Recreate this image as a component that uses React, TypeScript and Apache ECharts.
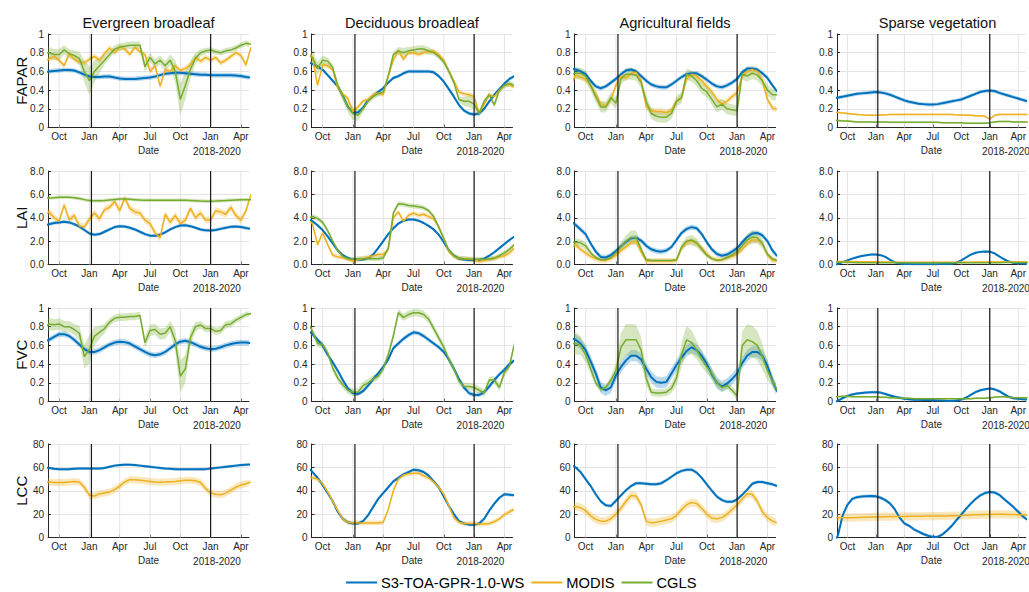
import React, { useEffect, useRef } from "react";
import * as echarts from "echarts";

// time axis in months, 0 = 1 October of the first year
const T = [-1.5,-1,-0.5,0,0.5,1, 1.5,2,2.5,3,3.5,4, 4.5,5,5.5,6,6.5,7, 7.5,8,8.5,9,9.5,10, 10.5,11,11.5,12,12.5,13, 13.5,14,14.5,15,15.5,16, 16.5,17,17.5,18,18.5,19];
const X_TICKS = [0, 3, 6, 9, 12, 15, 18];
const X_TICK_LABELS = ["Oct", "Jan", "Apr", "Jul", "Oct", "Jan", "Apr"];
const JAN_LINES = [3.2, 15.0];
const COLUMNS = ["Evergreen broadleaf", "Deciduous broadleaf", "Agricultural fields", "Sparse vegetation"];
const ROWS = ["FAPAR", "LAI", "FVC", "LCC"];
const Y_MAX = [1, 8, 1, 80];
const Y_STEP = [0.2, 2, 0.2, 20];
const PRODUCTS = ["S3-TOA-GPR-1.0-WS", "MODIS", "CGLS"];
const PERIOD_LABEL = "2018-2020";

// ---- FAPAR ----
const FAPAR_EVG_S3 = [0.59,0.60,0.605,0.61,0.615,0.615, 0.61,0.59,0.565,0.545,0.54,0.54, 0.545,0.545,0.535,0.525,0.52,0.52, 0.52,0.525,0.53,0.535,0.545,0.56, 0.575,0.58,0.585,0.585,0.58,0.575, 0.57,0.565,0.565,0.56,0.56,0.56, 0.56,0.56,0.555,0.55,0.54,0.535];
const FAPAR_EVG_MODIS = [0.72,0.73,0.76,0.72,0.66,0.79, 0.73,0.70,0.69,0.73,0.76,0.72, 0.79,0.85,0.80,0.86,0.84,0.78, 0.86,0.81,0.78,0.60,0.66,0.44, 0.62,0.60,0.66,0.61,0.63,0.67, 0.75,0.71,0.75,0.72,0.75,0.69, 0.72,0.76,0.80,0.77,0.67,0.86];
const FAPAR_EVG_CGLS = [0.80,0.80,0.78,0.78,0.83,0.79, 0.77,0.74,0.60,0.50,0.60,0.66, 0.72,0.78,0.84,0.86,0.87,0.88, 0.88,0.88,0.65,0.75,0.68,0.72, 0.66,0.72,0.60,0.30,0.45,0.62, 0.74,0.80,0.82,0.83,0.81,0.80, 0.82,0.83,0.85,0.88,0.90,0.89];
const FAPAR_EVG_CGLS_UNC = [0.06,0.06,0.06,0.06,0.05,0.05, 0.05,0.07,0.12,0.15,0.12,0.08, 0.05,0.04,0.04,0.04,0.04,0.04, 0.04,0.04,0.06,0.05,0.05,0.05, 0.05,0.06,0.12,0.17,0.15,0.10, 0.06,0.04,0.03,0.03,0.03,0.03, 0.03,0.03,0.03,0.03,0.03,0.03];

const FAPAR_DEC_S3 = [0.70,0.68,0.65,0.62,0.56,0.50, 0.44,0.34,0.22,0.16,0.16,0.21, 0.29,0.34,0.38,0.42,0.48,0.53, 0.55,0.58,0.60,0.60,0.60,0.60, 0.60,0.59,0.55,0.49,0.41,0.33, 0.24,0.18,0.15,0.14,0.15,0.20, 0.28,0.35,0.41,0.47,0.52,0.55];
const FAPAR_DEC_MODIS = [0.80,0.75,0.45,0.67,0.66,0.62, 0.42,0.36,0.31,0.17,0.22,0.28, 0.30,0.35,0.37,0.35,0.55,0.72, 0.82,0.73,0.80,0.80,0.78,0.80, 0.81,0.82,0.78,0.72,0.60,0.50, 0.38,0.36,0.35,0.33,0.15,0.25, 0.35,0.33,0.40,0.45,0.46,0.43];
const FAPAR_DEC_CGLS = [0.77,0.75,0.63,0.72,0.71,0.64, 0.45,0.33,0.22,0.15,0.13,0.20, 0.28,0.33,0.36,0.38,0.55,0.78, 0.82,0.80,0.82,0.83,0.84,0.84, 0.82,0.80,0.76,0.70,0.60,0.48, 0.30,0.28,0.28,0.25,0.15,0.28, 0.35,0.24,0.40,0.45,0.47,0.45];
const FAPAR_DEC_CGLS_UNC = [0.08,0.08,0.07,0.05,0.04,0.04, 0.04,0.05,0.06,0.07,0.06,0.04, 0.03,0.03,0.03,0.03,0.03,0.03, 0.04,0.05,0.04,0.04,0.04,0.04, 0.04,0.03,0.03,0.03,0.03,0.03, 0.03,0.05,0.06,0.06,0.04,0.03, 0.03,0.03,0.03,0.03,0.03,0.03];

const FAPAR_AGR_S3 = [0.63,0.62,0.60,0.57,0.50,0.44, 0.42,0.44,0.48,0.52,0.57,0.61, 0.62,0.60,0.55,0.50,0.46,0.44, 0.43,0.43,0.46,0.50,0.54,0.57, 0.58,0.58,0.55,0.51,0.47,0.44, 0.43,0.45,0.48,0.52,0.59,0.63, 0.63,0.62,0.58,0.53,0.45,0.38];
const FAPAR_AGR_MODIS = [0.45,0.56,0.54,0.52,0.45,0.36, 0.25,0.23,0.30,0.45,0.55,0.53, 0.58,0.59,0.50,0.22,0.18,0.17, 0.17,0.16,0.18,0.28,0.32,0.52, 0.57,0.55,0.50,0.44,0.38,0.30, 0.25,0.28,0.33,0.37,0.55,0.60, 0.62,0.60,0.50,0.30,0.21,0.19];
const FAPAR_AGR_CGLS = [0.57,0.58,0.58,0.55,0.45,0.33, 0.22,0.22,0.32,0.26,0.52,0.57, 0.57,0.56,0.48,0.28,0.15,0.12, 0.11,0.11,0.15,0.28,0.32,0.57, 0.55,0.50,0.42,0.38,0.30,0.22, 0.25,0.20,0.19,0.18,0.57,0.55, 0.58,0.56,0.50,0.40,0.35,0.35];

const FAPAR_SPA_S3 = [0.31,0.32,0.33,0.34,0.35,0.36, 0.365,0.37,0.375,0.38,0.375,0.365, 0.35,0.33,0.31,0.29,0.275,0.265, 0.255,0.25,0.245,0.245,0.25,0.26, 0.27,0.28,0.29,0.30,0.32,0.34, 0.36,0.38,0.39,0.395,0.39,0.37, 0.355,0.34,0.325,0.31,0.295,0.28];
const FAPAR_SPA_MODIS = [0.16,0.16,0.155,0.15,0.145,0.14, 0.135,0.13,0.13,0.13,0.135,0.135, 0.14,0.14,0.14,0.14,0.14,0.14, 0.14,0.14,0.14,0.14,0.14,0.14, 0.14,0.14,0.135,0.135,0.13,0.13, 0.125,0.125,0.12,0.09,0.13,0.14, 0.14,0.14,0.14,0.14,0.14,0.14];
const FAPAR_SPA_CGLS = [0.08,0.075,0.07,0.07,0.065,0.06, 0.06,0.06,0.06,0.055,0.06,0.06, 0.055,0.055,0.055,0.055,0.055,0.055, 0.055,0.055,0.055,0.055,0.055,0.05, 0.05,0.05,0.05,0.05,0.045,0.045, 0.045,0.045,0.045,0.05,0.06,0.065, 0.065,0.065,0.06,0.06,0.06,0.06];

// ---- LAI ----
const LAI_EVG_S3 = [3.3,3.45,3.55,3.6,3.65,3.6, 3.45,3.25,2.95,2.65,2.55,2.6, 2.8,3.0,3.2,3.28,3.25,3.15, 3.0,2.8,2.6,2.47,2.45,2.55, 2.75,3.0,3.2,3.33,3.35,3.28, 3.15,3.0,2.92,2.9,2.95,3.05, 3.15,3.22,3.25,3.2,3.12,3.05];
const LAI_EVG_MODIS = [4.2,4.5,4.0,3.7,5.1,3.8, 4.2,3.3,3.2,3.9,4.4,3.9, 4.7,4.9,5.4,4.6,5.7,4.8, 4.5,4.4,3.8,3.5,2.7,2.3, 4.3,3.6,4.2,3.5,3.8,4.8, 4.0,4.4,3.8,3.8,4.6,4.5, 4.3,4.9,4.2,3.8,4.6,6.0];
const LAI_EVG_CGLS = [5.65,5.7,5.72,5.75,5.75,5.75, 5.72,5.65,5.55,5.47,5.45,5.45, 5.48,5.52,5.56,5.6,5.6,5.58, 5.55,5.52,5.5,5.5,5.5,5.5, 5.5,5.5,5.5,5.5,5.49,5.47, 5.45,5.43,5.42,5.42,5.43,5.45, 5.47,5.5,5.52,5.53,5.53,5.53];

const LAI_DEC_S3 = [3.9,3.7,3.35,2.95,2.4,1.8, 1.2,0.8,0.55,0.42,0.4,0.42, 0.55,0.85,1.4,2.0,2.6,3.1, 3.5,3.75,3.85,3.85,3.75,3.55, 3.3,3.0,2.55,1.9,1.2,0.75, 0.5,0.42,0.38,0.36,0.4,0.5, 0.75,1.05,1.4,1.75,2.1,2.4];
const LAI_DEC_MODIS = [3.9,3.5,1.7,2.7,1.7,0.8, 0.65,0.6,0.45,0.3,0.4,0.5, 0.65,0.75,0.85,0.85,1.3,4.0, 4.5,3.7,4.2,4.4,4.2,4.3, 4.1,3.9,3.2,2.2,1.1,0.7, 0.5,0.5,0.45,0.4,0.25,0.35, 0.45,0.5,0.65,0.75,1.0,1.4];
const LAI_DEC_CGLS = [4.0,4.1,3.95,3.6,2.9,2.0, 1.2,0.7,0.5,0.45,0.5,0.5, 0.5,0.5,0.5,0.55,1.4,4.4, 5.2,5.15,5.05,5.0,4.95,4.85, 4.6,4.1,3.2,2.2,1.2,0.75, 0.55,0.5,0.48,0.45,0.45,0.45, 0.48,0.55,0.75,1.0,1.3,1.7];

const LAI_AGR_S3 = [3.7,3.4,3.0,2.6,1.8,1.1, 0.65,0.6,0.8,1.15,1.55,1.95, 2.25,2.3,2.05,1.6,1.3,1.15, 1.1,1.2,1.5,2.1,2.7,3.05, 3.2,3.1,2.6,1.9,1.3,0.9, 0.75,0.85,1.1,1.4,1.9,2.35, 2.65,2.7,2.5,2.0,1.2,0.7];
const LAI_AGR_MODIS = [1.4,1.7,1.3,1.0,0.7,0.5, 0.35,0.35,0.5,0.8,1.2,1.5, 1.9,2.0,1.1,0.3,0.3,0.3, 0.3,0.3,0.3,0.35,1.4,1.9, 2.0,1.8,1.4,0.9,0.5,0.4, 0.4,0.55,0.7,0.9,1.3,1.8, 2.1,2.1,1.8,0.8,0.35,0.3];
const LAI_AGR_CGLS = [1.9,1.9,1.85,1.6,1.0,0.6, 0.4,0.4,0.6,1.0,1.5,2.0, 2.3,2.3,1.3,0.4,0.35,0.35, 0.35,0.35,0.35,0.4,1.5,2.0, 2.1,1.85,1.3,0.8,0.5,0.35, 0.4,0.6,0.8,1.1,1.6,2.1, 2.35,2.3,1.8,0.9,0.5,0.35];
const LAI_AGR_CGLS_UNC = [0.35,0.35,0.3,0.3,0.2,0.15, 0.1,0.1,0.15,0.25,0.4,0.5, 0.6,0.6,0.4,0.15,0.1,0.1, 0.1,0.1,0.1,0.1,0.3,0.4, 0.45,0.4,0.3,0.2,0.12,0.1, 0.1,0.15,0.2,0.3,0.4,0.5, 0.55,0.5,0.4,0.2,0.12,0.1];

const LAI_SPA_S3 = [-0.1,0.05,0.2,0.35,0.5,0.62, 0.72,0.8,0.85,0.85,0.8,0.65, 0.4,0.18,0.08,0.05,0.04,0.03, 0.03,0.03,0.03,0.03,0.03,0.04, 0.04,0.07,0.15,0.35,0.6,0.85, 1.0,1.08,1.12,1.1,0.95,0.7, 0.45,0.25,0.15,0.1,0.08,0.06];
const LAI_SPA_MODIS = [0.25,0.25,0.25,0.25,0.25,0.24, 0.24,0.24,0.23,0.23,0.22,0.22, 0.21,0.2,0.2,0.2,0.19,0.19, 0.19,0.19,0.19,0.19,0.19,0.19, 0.19,0.19,0.2,0.2,0.2,0.2, 0.21,0.21,0.21,0.21,0.22,0.22, 0.22,0.22,0.22,0.22,0.22,0.22];
const LAI_SPA_CGLS = [0.2,0.2,0.19,0.18,0.17,0.16, 0.15,0.15,0.15,0.15,0.15,0.15, 0.14,0.14,0.14,0.14,0.14,0.14, 0.14,0.14,0.14,0.14,0.14,0.14, 0.14,0.14,0.14,0.14,0.14,0.14, 0.14,0.15,0.15,0.15,0.16,0.16, 0.17,0.17,0.17,0.17,0.17,0.17];

// ---- FVC ----
const FVC_EVG_S3 = [0.64,0.66,0.69,0.72,0.72,0.70, 0.66,0.61,0.56,0.53,0.53,0.55, 0.58,0.61,0.63,0.64,0.635,0.62, 0.59,0.56,0.53,0.505,0.495,0.505, 0.53,0.57,0.61,0.64,0.65,0.635, 0.61,0.585,0.57,0.56,0.565,0.58, 0.60,0.615,0.625,0.63,0.63,0.625];
const FVC_EVG_CGLS = [0.78,0.83,0.82,0.83,0.80,0.80, 0.77,0.73,0.48,0.56,0.70,0.74, 0.78,0.85,0.89,0.90,0.90,0.91, 0.91,0.92,0.63,0.76,0.77,0.72, 0.73,0.80,0.65,0.27,0.35,0.68, 0.80,0.82,0.78,0.78,0.75,0.76, 0.82,0.83,0.87,0.90,0.93,0.94];
const FVC_EVG_CGLS_UNC = [0.08,0.07,0.06,0.06,0.06,0.06, 0.06,0.08,0.13,0.15,0.10,0.07, 0.05,0.04,0.04,0.04,0.04,0.04, 0.04,0.04,0.06,0.06,0.06,0.06, 0.06,0.06,0.12,0.17,0.15,0.08, 0.05,0.04,0.04,0.04,0.04,0.04, 0.04,0.04,0.03,0.03,0.03,0.03];

const FVC_DEC_S3 = [0.76,0.72,0.66,0.60,0.50,0.42, 0.33,0.23,0.14,0.09,0.08,0.11, 0.17,0.24,0.30,0.37,0.45,0.57, 0.62,0.67,0.71,0.74,0.73,0.70, 0.66,0.62,0.58,0.53,0.45,0.35, 0.24,0.15,0.09,0.07,0.07,0.10, 0.16,0.23,0.29,0.34,0.40,0.44];
const FVC_DEC_CGLS = [0.86,0.75,0.62,0.61,0.52,0.36, 0.25,0.18,0.12,0.10,0.10,0.17, 0.20,0.24,0.27,0.35,0.50,0.70, 0.95,0.90,0.93,0.95,0.95,0.93, 0.88,0.78,0.68,0.58,0.45,0.35, 0.22,0.16,0.16,0.15,0.12,0.09, 0.23,0.23,0.15,0.31,0.38,0.62];

const FVC_AGR_S3 = [0.68,0.66,0.62,0.55,0.43,0.30, 0.15,0.12,0.15,0.28,0.37,0.44, 0.49,0.49,0.45,0.35,0.26,0.21, 0.20,0.21,0.30,0.39,0.47,0.54, 0.58,0.55,0.49,0.40,0.29,0.20, 0.16,0.19,0.24,0.30,0.41,0.49, 0.53,0.53,0.49,0.38,0.22,0.10];
const FVC_AGR_CGLS = [0.62,0.62,0.60,0.50,0.35,0.20, 0.13,0.15,0.23,0.33,0.58,0.66, 0.66,0.66,0.55,0.25,0.10,0.09, 0.09,0.10,0.14,0.25,0.50,0.66, 0.63,0.55,0.45,0.37,0.30,0.20, 0.15,0.17,0.12,0.06,0.60,0.66, 0.64,0.60,0.48,0.33,0.22,0.12];
const FVC_AGR_CGLS_UNC = [0.12,0.12,0.10,0.08,0.06,0.04, 0.03,0.03,0.04,0.08,0.15,0.17, 0.17,0.16,0.14,0.08,0.04,0.04, 0.04,0.04,0.05,0.08,0.13,0.15, 0.13,0.10,0.08,0.07,0.06,0.05, 0.04,0.04,0.04,0.05,0.15,0.17, 0.17,0.16,0.14,0.10,0.06,0.04];

const FVC_SPA_S3 = [-0.02,0.01,0.035,0.06,0.075,0.085, 0.09,0.095,0.10,0.10,0.095,0.08, 0.065,0.05,0.04,0.03,0.025,0.02, 0.02,0.015,0.015,0.015,0.012,0.01, 0.005,0.005,0.01,0.02,0.04,0.07, 0.10,0.12,0.13,0.14,0.13,0.11, 0.08,0.05,0.035,0.03,0.025,0.02];
const FVC_SPA_CGLS = [0.05,0.05,0.055,0.055,0.05,0.05, 0.05,0.05,0.05,0.05,0.045,0.045, 0.04,0.04,0.035,0.035,0.035,0.03, 0.03,0.03,0.03,0.03,0.03,0.03, 0.03,0.03,0.03,0.03,0.03,0.03, 0.035,0.035,0.035,0.04,0.045,0.05, 0.05,0.045,0.04,0.04,0.04,0.04];

// ---- LCC ----
const LCC_EVG_S3 = [60,59.5,58.8,58.5,58.3,58.5, 58.8,59,59,59,59,59, 59.5,60.5,61.5,62,62.3,62.3, 62,61.5,61,60.5,60,59.5, 59,58.8,58.5,58.3,58.3,58.3, 58.3,58.4,58.5,59,59.5,60, 60.5,61,61.5,62,62.3,62.5];
const LCC_EVG_MODIS = [47.5,47.5,47,47,47,47.5, 48,47.5,43,36,35.5,37.5, 38,39,41,44,47.5,49.5, 49.5,49,48.5,48,47.5,47.3, 47.5,47.8,48,48.5,49,49, 48.5,47,42,38,37,36.5, 38,40.5,43,45,46,47.5];

const LCC_DEC_S3 = [60,56,51,45,38,31, 22,16,13,12,12,14, 19,26,33,38,43,48, 51,54,56,58,57.5,56, 53,48,43,35,27,20, 14,12,11,11,12,16, 23,29,34,37,36.5,36];
const LCC_DEC_MODIS = [52,51,50,46,39,31, 23,16,13,12.5,12.5,12.5, 12.5,12.5,12.5,13,24,40, 50,53.5,54.5,55,55,53, 51,47.5,43,37,27,17, 13,12,12,12,11.5,11.5, 12,13.5,16,19.5,22,24];

const LCC_AGR_S3 = [62,60,56,50,44,37, 31,27.5,27,31.5,36,40.5, 44,46.5,46.5,46,45.5,45.5, 46.5,49,52,55,57,58, 58,55.5,51,45.5,40,35, 32,30.5,30.5,32.5,36.5,41, 46,47.5,47.5,46.5,45.5,44];
const LCC_AGR_MODIS = [26,26.5,25.5,23,18.5,15.5, 14,14,16,20,25,31, 36,35.5,28,14,12.5,13, 14,15,16,19,24,28, 30,29,25,20,16.5,16, 17,20,24,28,33,37.5, 37,31,22,17,14,12.5];

const LCC_SPA_S3 = [-8,2,19,28,33,34.5, 35,35.3,35.5,35.2,34,32, 29,24,17,12,10,7, 5,3,1.5,0.5,0.5,2.5, 6,10,15,19.5,24.5,29, 33,36,38,39,38.5,36.5, 33,29.5,26,22,18,15];
const LCC_SPA_MODIS = [17,17,17,17,17,17.2, 17.3,17.4,17.5,17.6,17.7,17.8, 17.9,18,18,18,18.1,18.1, 18.2,18.2,18.3,18.3,18.3,18.4, 18.5,18.6,18.7,18.8,19,19.2, 19.4,19.5,19.6,19.7,19.8,19.8, 19.8,19.7,19.6,19.5,19.4,19.3];

type Line = { p: number; v: number[]; u: number | number[] };
type Panel = { row: number; col: number; lines: Line[] };

const PANELS: Panel[] = [
  { row: 0, col: 0, lines: [{ p: 0, v: FAPAR_EVG_S3, u: 0.025 }, { p: 1, v: FAPAR_EVG_MODIS, u: 0.03 }, { p: 2, v: FAPAR_EVG_CGLS, u: FAPAR_EVG_CGLS_UNC }] },
  { row: 0, col: 1, lines: [{ p: 0, v: FAPAR_DEC_S3, u: 0.02 }, { p: 1, v: FAPAR_DEC_MODIS, u: 0.025 }, { p: 2, v: FAPAR_DEC_CGLS, u: FAPAR_DEC_CGLS_UNC }] },
  { row: 0, col: 2, lines: [{ p: 0, v: FAPAR_AGR_S3, u: 0.025 }, { p: 1, v: FAPAR_AGR_MODIS, u: 0.035 }, { p: 2, v: FAPAR_AGR_CGLS, u: 0.06 }] },
  { row: 0, col: 3, lines: [{ p: 0, v: FAPAR_SPA_S3, u: 0.02 }, { p: 1, v: FAPAR_SPA_MODIS, u: 0.01 }, { p: 2, v: FAPAR_SPA_CGLS, u: 0.01 }] },
  { row: 1, col: 0, lines: [{ p: 0, v: LAI_EVG_S3, u: 0.15 }, { p: 1, v: LAI_EVG_MODIS, u: 0.3 }, { p: 2, v: LAI_EVG_CGLS, u: 0.15 }] },
  { row: 1, col: 1, lines: [{ p: 0, v: LAI_DEC_S3, u: 0.12 }, { p: 1, v: LAI_DEC_MODIS, u: 0.2 }, { p: 2, v: LAI_DEC_CGLS, u: 0.2 }] },
  { row: 1, col: 2, lines: [{ p: 0, v: LAI_AGR_S3, u: 0.22 }, { p: 1, v: LAI_AGR_MODIS, u: 0.25 }, { p: 2, v: LAI_AGR_CGLS, u: LAI_AGR_CGLS_UNC }] },
  { row: 1, col: 3, lines: [{ p: 0, v: LAI_SPA_S3, u: 0.1 }, { p: 1, v: LAI_SPA_MODIS, u: 0.05 }, { p: 2, v: LAI_SPA_CGLS, u: 0.05 }] },
  { row: 2, col: 0, lines: [{ p: 0, v: FVC_EVG_S3, u: 0.03 }, { p: 2, v: FVC_EVG_CGLS, u: FVC_EVG_CGLS_UNC }] },
  { row: 2, col: 1, lines: [{ p: 0, v: FVC_DEC_S3, u: 0.025 }, { p: 2, v: FVC_DEC_CGLS, u: 0.04 }] },
  { row: 2, col: 2, lines: [{ p: 0, v: FVC_AGR_S3, u: 0.06 }, { p: 2, v: FVC_AGR_CGLS, u: FVC_AGR_CGLS_UNC }] },
  { row: 2, col: 3, lines: [{ p: 0, v: FVC_SPA_S3, u: 0.015 }, { p: 2, v: FVC_SPA_CGLS, u: 0.01 }] },
  { row: 3, col: 0, lines: [{ p: 0, v: LCC_EVG_S3, u: 1.2 }, { p: 1, v: LCC_EVG_MODIS, u: 3 }] },
  { row: 3, col: 1, lines: [{ p: 0, v: LCC_DEC_S3, u: 1.5 }, { p: 1, v: LCC_DEC_MODIS, u: 2 }] },
  { row: 3, col: 2, lines: [{ p: 0, v: LCC_AGR_S3, u: 1.5 }, { p: 1, v: LCC_AGR_MODIS, u: 3.5 }] },
  { row: 3, col: 3, lines: [{ p: 0, v: LCC_SPA_S3, u: 1.5 }, { p: 1, v: LCC_SPA_MODIS, u: 3.5 }] },
];

// ---- style / layout ----
const FONT = "'Liberation Sans', Arial, Helvetica, sans-serif";
const INK = "#262626";
const GRID_COLOR = "#e4e4e4";
const COLORS = ["#0072BD", "#EDB120", "#77AC30"];
const BAND_COLORS = ["rgba(0,114,189,0.27)", "rgba(237,177,32,0.3)", "rgba(119,172,48,0.3)"];
const LINE_WIDTHS = [2, 1.5, 1.5];
const COL_LEFT = [48, 311.5, 574.5, 837];
const ROW_TOP = [34, 171, 308, 444];
const PLOT_W = 201;
const PLOT_H = 93.5;
const X_MIN = -1.1;
const X_MAX = 18.8;

function uncAt(u: number | number[], i: number) {
  return typeof u === "number" ? u : u[i];
}

function yLabel(row: number, v: number) {
  if (row === 1) return v.toFixed(1);
  if (row === 3) return String(Math.round(v));
  if (Math.abs(v) < 1e-9) return "0";
  if (Math.abs(v - 1) < 1e-9) return "1";
  return v.toFixed(1);
}

export default function App() {
  const ref = useRef<HTMLDivElement>(null);
  useEffect(() => {
    if (!ref.current) return;
    const chart = echarts.init(ref.current, undefined, { renderer: "svg" });
    const grid: any[] = [];
    const xAxis: any[] = [];
    const yAxis: any[] = [];
    const series: any[] = [];
    const graphic: any[] = [];

    PANELS.forEach((pn, k) => {
      const left = COL_LEFT[pn.col];
      const top = ROW_TOP[pn.row];
      const yMax = Y_MAX[pn.row];
      grid.push({ left, top, width: PLOT_W, height: PLOT_H, containLabel: false });
      xAxis.push({
        type: "value",
        gridIndex: k,
        min: X_MIN,
        max: X_MAX,
        splitLine: { show: false },
        axisLine: { show: true, onZero: false, lineStyle: { color: INK, width: 1 } },
        axisTick: { show: true, inside: true, length: 3, customValues: X_TICKS, lineStyle: { color: INK } },
        axisLabel: {
          customValues: X_TICKS,
          formatter: (v: number) => X_TICK_LABELS[X_TICKS.indexOf(v)] ?? "",
          fontSize: 10,
          color: INK,
          margin: 4,
          fontFamily: FONT,
        },
        name: "Date",
        nameLocation: "middle",
        nameGap: 18,
        nameTextStyle: { fontSize: 10, color: INK, fontFamily: FONT },
      });
      yAxis.push({
        type: "value",
        gridIndex: k,
        min: 0,
        max: yMax,
        interval: Y_STEP[pn.row],
        splitLine: { show: true, lineStyle: { color: GRID_COLOR, width: 1 } },
        axisLine: { show: true, onZero: false, lineStyle: { color: INK, width: 1 } },
        axisTick: { show: true, inside: true, length: 3, lineStyle: { color: INK } },
        axisLabel: {
          formatter: (v: number) => yLabel(pn.row, v),
          fontSize: 10,
          color: INK,
          margin: 4,
          fontFamily: FONT,
        },
      });

      // vertical grid lines at the date ticks
      series.push({
        type: "custom",
        xAxisIndex: k,
        yAxisIndex: k,
        silent: true,
        z: 1,
        data: X_TICKS.map((v) => [v, 0]),
        encode: { x: 0, y: 1 },
        renderItem: (_p: any, api: any) => {
          const x = api.value(0);
          const a = api.coord([x, 0]);
          const b = api.coord([x, yMax]);
          return { type: "line", shape: { x1: a[0], y1: a[1], x2: b[0], y2: b[1] }, style: { stroke: GRID_COLOR, lineWidth: 1 } };
        },
      });

      // uncertainty bands
      pn.lines.forEach((ln) => {
        const lo = ln.v.map((v, i) => v - uncAt(ln.u, i));
        const hi = ln.v.map((v, i) => v + uncAt(ln.u, i));
        const fill = BAND_COLORS[ln.p];
        series.push({
          type: "custom",
          name: PRODUCTS[ln.p] + " band",
          xAxisIndex: k,
          yAxisIndex: k,
          silent: true,
          clip: true,
          z: 2,
          data: T.map((t, i) => [t, lo[i], hi[i]]),
          encode: { x: 0, y: [1, 2] },
          renderItem: (params: any, api: any) => {
            if (params.dataIndex !== 0) return null;
            const pts: number[][] = [];
            for (let i = 0; i < T.length; i++) pts.push(api.coord([T[i], hi[i]]));
            for (let i = T.length - 1; i >= 0; i--) pts.push(api.coord([T[i], lo[i]]));
            return { type: "polygon", shape: { points: pts }, style: { fill } };
          },
        });
      });

      // product lines
      pn.lines.forEach((ln) => {
        series.push({
          type: "line",
          name: PRODUCTS[ln.p],
          xAxisIndex: k,
          yAxisIndex: k,
          data: T.map((t, i) => [t, ln.v[i]]),
          symbol: "none",
          showSymbol: false,
          clip: true,
          silent: true,
          z: 3,
          lineStyle: { color: COLORS[ln.p], width: LINE_WIDTHS[ln.p] },
          itemStyle: { color: COLORS[ln.p] },
        });
      });

      // January separators
      series.push({
        type: "custom",
        xAxisIndex: k,
        yAxisIndex: k,
        silent: true,
        z: 4,
        data: JAN_LINES.map((v) => [v, 0]),
        encode: { x: 0, y: 1 },
        renderItem: (_p: any, api: any) => {
          const x = api.value(0);
          const a = api.coord([x, 0]);
          const b = api.coord([x, yMax]);
          return { type: "line", shape: { x1: a[0], y1: a[1], x2: b[0], y2: b[1] }, style: { stroke: "#1a1a1a", lineWidth: 1.2 } };
        },
      });

      graphic.push({
        type: "text",
        silent: true,
        x: left + 169,
        y: top + PLOT_H + 24,
        style: {
          text: PERIOD_LABEL,
          fill: INK,
          fontSize: 10,
          fontFamily: FONT,
          textAlign: "center",
          textVerticalAlign: "middle",
          align: "center",
          verticalAlign: "middle",
        },
      });
    });

    COLUMNS.forEach((t, c) => {
      graphic.push({
        type: "text",
        silent: true,
        x: COL_LEFT[c] + PLOT_W / 2,
        y: 23,
        style: {
          text: t,
          fill: "#111",
          fontSize: 14.6,
          fontFamily: FONT,
          textAlign: "center",
          textVerticalAlign: "middle",
          align: "center",
          verticalAlign: "middle",
        },
      });
    });
    ROWS.forEach((t, r) => {
      graphic.push({
        type: "text",
        silent: true,
        x: 21,
        y: ROW_TOP[r] + PLOT_H / 2,
        rotation: Math.PI / 2,
        style: {
          text: t,
          fill: "#111",
          fontSize: 15,
          fontFamily: FONT,
          textAlign: "center",
          textVerticalAlign: "middle",
          align: "center",
          verticalAlign: "middle",
        },
      });
    });

    chart.setOption({
      animation: false,
      backgroundColor: "#ffffff",
      textStyle: { fontFamily: FONT },
      grid,
      xAxis,
      yAxis,
      series,
      graphic,
      legend: {
        data: PRODUCTS,
        left: 346,
        top: 575,
        padding: 0,
        icon: "rect",
        itemWidth: 31,
        itemHeight: 2,
        itemGap: 7,
        selectedMode: false,
        textStyle: { fontSize: 14.7, color: "#000", fontFamily: FONT, padding: [0, 0, 0, -1] },
      },
    });
    return () => chart.dispose();
  }, []);
  return (
    <div
      ref={ref}
      style={{ position: "fixed", left: 0, top: 0, width: 1029, height: 592, background: "#fff" }}
    />
  );
}
